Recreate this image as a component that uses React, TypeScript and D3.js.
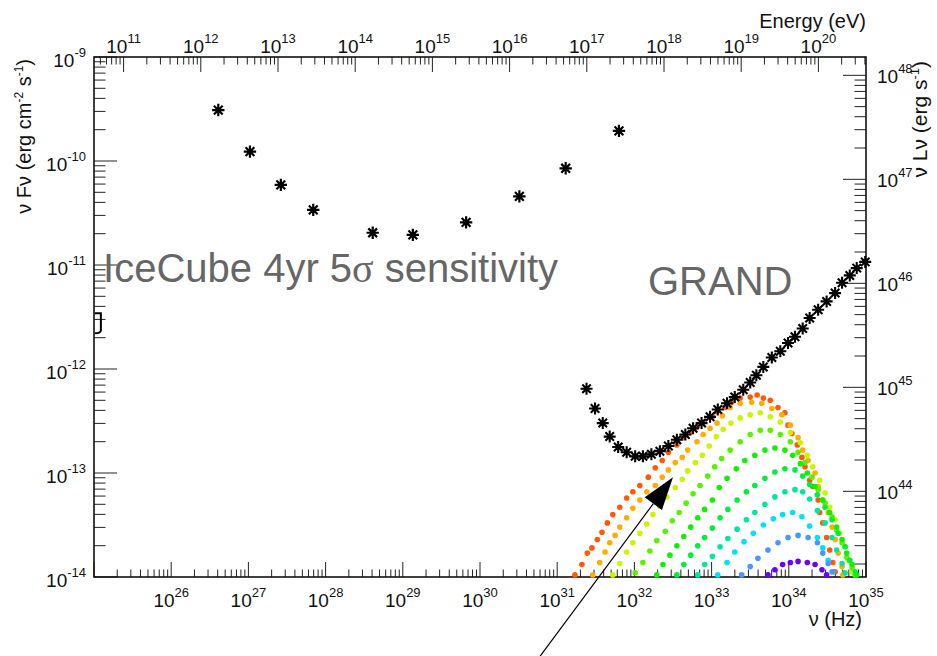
import * as d3 from "d3";

// conversion constants for the secondary axes
const PLANCK_EV = 4.1357e-15; // E = h nu  (eV s)
const LUM_FACTOR = 1.5e57; // 4 pi d^2 (cm^2)

// IceCube 4yr 5 sigma sensitivity, log10 nu (Hz) / log10 nuFnu (erg cm-2 s-1)
const icecubeLogNu = [26.61, 27.02, 27.42, 27.84, 28.61, 29.13, 29.82, 30.51, 31.11, 31.8];
const icecubeLogFlux = [-9.51, -9.91, -10.23, -10.47, -10.69, -10.71, -10.59, -10.34, -10.07, -9.71];

// GRAND sensitivity
const grandLogNu = [
  31.38, 31.49, 31.59, 31.68, 31.79, 31.9, 32.01, 32.11, 32.22, 32.33, 32.44, 32.55, 32.66, 32.76, 32.87, 32.98,
  33.08, 33.2, 33.3, 33.41, 33.5, 33.58, 33.67, 33.78, 33.89, 33.99, 34.08, 34.18, 34.27, 34.38, 34.49, 34.6,
  34.69, 34.79, 34.88, 34.99,
];
const grandLogFlux = [
  -12.19, -12.38, -12.52, -12.65, -12.75, -12.8, -12.84, -12.84, -12.82, -12.79, -12.74, -12.68, -12.63, -12.57,
  -12.52, -12.46, -12.39, -12.33, -12.27, -12.2, -12.13, -12.06, -11.98, -11.89, -11.83, -11.75, -11.69, -11.61,
  -11.51, -11.43, -11.35, -11.27, -11.17, -11.1, -11.03, -10.97,
];

// model spectra, [log10 nu, log10 nuFnu]
const spectrumRed = [
  [31.23, -13.98], [31.32, -13.88], [31.39, -13.77], [31.45, -13.72], [31.52, -13.64], [31.58, -13.57], [31.65, -13.48],
  [31.72, -13.4], [31.81, -13.33], [31.9, -13.24], [31.98, -13.18], [32.07, -13.12], [32.18, -13.04], [32.27, -12.95],
  [32.36, -12.88], [32.44, -12.8], [32.55, -12.73], [32.63, -12.66], [32.72, -12.61], [32.81, -12.56], [32.89, -12.51],
  [33.01, -12.46], [33.07, -12.41], [33.17, -12.37], [33.26, -12.32], [33.37, -12.28], [33.5, -12.27], [33.59, -12.25],
  [33.67, -12.28], [33.76, -12.3], [33.86, -12.37], [33.95, -12.42], [33.99, -12.54], [34.04, -12.62], [34.11, -12.73],
  [34.17, -12.85], [34.21, -12.94], [34.27, -13.07], [34.31, -13.13], [34.38, -13.26], [34.4, -13.38], [34.44, -13.48],
  [34.49, -13.62], [34.53, -13.74], [34.57, -13.86], [34.6, -13.95],
];
const spectrumOrange = [
  [31.46, -13.98], [31.55, -13.86], [31.62, -13.76], [31.68, -13.67], [31.75, -13.6], [31.81, -13.52], [31.9, -13.43],
  [31.98, -13.34], [32.07, -13.26], [32.16, -13.18], [32.27, -13.12], [32.36, -13.04], [32.44, -12.97], [32.53, -12.9],
  [32.62, -12.85], [32.69, -12.78], [32.81, -12.7], [32.89, -12.63], [32.98, -12.57], [33.07, -12.52], [33.14, -12.45],
  [33.24, -12.37], [33.37, -12.33], [33.52, -12.32], [33.65, -12.33], [33.78, -12.38], [33.91, -12.44], [34.02, -12.54],
  [34.12, -12.66], [34.18, -12.78], [34.25, -12.88], [34.34, -13.0], [34.38, -13.13], [34.44, -13.26], [34.51, -13.38],
  [34.56, -13.52], [34.6, -13.64], [34.64, -13.77], [34.69, -13.9], [34.7, -13.98],
];
const spectrumYellow = [
  [31.72, -13.98], [31.81, -13.87], [31.9, -13.76], [31.98, -13.67], [32.07, -13.58], [32.16, -13.49], [32.24, -13.4],
  [32.33, -13.32], [32.42, -13.23], [32.53, -13.14], [32.62, -13.06], [32.69, -12.98], [32.79, -12.9], [32.88, -12.83],
  [32.97, -12.74], [33.06, -12.65], [33.15, -12.58], [33.25, -12.52], [33.37, -12.47], [33.5, -12.44], [33.63, -12.42],
  [33.76, -12.46], [33.89, -12.51], [34.02, -12.61], [34.15, -12.71], [34.24, -12.83], [34.31, -12.94], [34.4, -13.07],
  [34.47, -13.19], [34.53, -13.33], [34.6, -13.45], [34.66, -13.58], [34.73, -13.71], [34.77, -13.84], [34.82, -13.95],
];
const spectrumLime = [
  [32.01, -13.96], [32.11, -13.86], [32.2, -13.75], [32.29, -13.65], [32.4, -13.56], [32.49, -13.46], [32.58, -13.38],
  [32.67, -13.29], [32.76, -13.2], [32.85, -13.12], [32.95, -13.03], [33.04, -12.94], [33.13, -12.86], [33.24, -12.78],
  [33.37, -12.7], [33.5, -12.63], [33.63, -12.59], [33.76, -12.59], [33.89, -12.63], [34.02, -12.7], [34.12, -12.8],
  [34.21, -12.9], [34.3, -13.04], [34.38, -13.16], [34.47, -13.29], [34.56, -13.42], [34.62, -13.55], [34.69, -13.67],
  [34.75, -13.81], [34.82, -13.91], [34.86, -13.98],
];
const spectrumGreen = [
  [32.29, -13.98], [32.37, -13.88], [32.46, -13.79], [32.55, -13.7], [32.64, -13.61], [32.73, -13.52], [32.82, -13.43],
  [32.91, -13.35], [33.01, -13.26], [33.1, -13.14], [33.2, -13.05], [33.32, -12.96], [33.43, -12.88], [33.56, -12.83],
  [33.69, -12.78], [33.82, -12.76], [33.95, -12.78], [34.05, -12.83], [34.15, -12.91], [34.24, -13.0], [34.34, -13.13],
  [34.44, -13.26], [34.53, -13.38], [34.62, -13.52], [34.69, -13.64], [34.75, -13.77], [34.82, -13.88], [34.88, -13.98],
];
const spectrumSpring = [
  [32.55, -13.98], [32.64, -13.88], [32.73, -13.79], [32.82, -13.7], [32.91, -13.62], [33.01, -13.53], [33.11, -13.43],
  [33.21, -13.35], [33.33, -13.26], [33.45, -13.18], [33.56, -13.12], [33.69, -13.05], [33.82, -12.99], [33.95, -12.96],
  [34.08, -12.97], [34.18, -13.03], [34.27, -13.11], [34.37, -13.21], [34.47, -13.33], [34.56, -13.45], [34.64, -13.58],
  [34.73, -13.71], [34.79, -13.84], [34.86, -13.95],
];
const spectrumTeal = [
  [32.82, -13.98], [32.91, -13.88], [33.01, -13.8], [33.11, -13.71], [33.21, -13.63], [33.33, -13.54], [33.45, -13.45],
  [33.56, -13.38], [33.69, -13.3], [33.82, -13.23], [33.95, -13.18], [34.08, -13.16], [34.18, -13.18], [34.27, -13.25],
  [34.37, -13.36], [34.47, -13.48], [34.56, -13.62], [34.62, -13.74], [34.69, -13.87], [34.73, -13.96],
];
const spectrumCyan = [
  [33.08, -13.98], [33.2, -13.86], [33.3, -13.76], [33.42, -13.66], [33.54, -13.58], [33.67, -13.5], [33.8, -13.44],
  [33.92, -13.4], [34.05, -13.38], [34.17, -13.42], [34.27, -13.51], [34.37, -13.62], [34.44, -13.72], [34.51, -13.84],
  [34.57, -13.95],
];
const spectrumBlue = [
  [33.39, -13.98], [33.5, -13.9], [33.6, -13.82], [33.73, -13.74], [33.86, -13.67], [33.99, -13.62], [34.12, -13.6],
  [34.25, -13.62], [34.37, -13.67], [34.44, -13.77], [34.51, -13.87], [34.56, -13.95],
];
const spectrumViolet = [
  [33.73, -13.98], [33.82, -13.93], [33.92, -13.88], [34.02, -13.86], [34.12, -13.85], [34.24, -13.86], [34.34, -13.88],
  [34.43, -13.93], [34.49, -13.98],
];

const spectra = [
  { points: spectrumRed, color: "#ff5a0a" },
  { points: spectrumOrange, color: "#ffad00" },
  { points: spectrumYellow, color: "#c8f500" },
  { points: spectrumLime, color: "#5af000" },
  { points: spectrumGreen, color: "#10f000" },
  { points: spectrumSpring, color: "#00ee3c" },
  { points: spectrumTeal, color: "#00e6a0" },
  { points: spectrumCyan, color: "#00e0ff" },
  { points: spectrumBlue, color: "#4a96ff" },
  { points: spectrumViolet, color: "#6a00ff" },
];

// annotations (log10 nu, log10 nuFnu)
const arrowTail = [30.74, -14.8];
const arrowTip = [32.5, -13.04];
const edgeMark = [25.05, -11.56];
const icecubeLabel = [25.117, -11.163];
const grandLabel = [32.176, -11.288];

const W = 937;
const H = 656;
const margin = { top: 57, right: 71, bottom: 79, left: 94 };
const FONT = "'Liberation Sans', Arial, Helvetica, sans-serif";

function logTicks(domain) {
  const [a, b] = domain;
  const major = [];
  const minor = [];
  for (let k = Math.floor(Math.log10(a)); k <= Math.ceil(Math.log10(b)); k++) {
    for (let m = 1; m < 10; m++) {
      const v = m * Math.pow(10, k);
      if (v < a * 0.999 || v > b * 1.001) continue;
      (m === 1 ? major : minor).push(v);
    }
  }
  return { major, minor };
}

function starPath(cx, cy, r) {
  const d = r * Math.SQRT1_2;
  return `M${cx - r},${cy}h${2 * r}M${cx},${cy - r}v${2 * r}M${cx - d},${cy - d}l${2 * d},${2 * d}M${cx - d},${cy + d}l${2 * d},${-2 * d}`;
}

const exp10 = (v) => Math.pow(10, v);
const expLabel = (v) => String(Math.round(Math.log10(v)));

export default function App() {
  const x0 = margin.left;
  const x1 = W - margin.right;
  const y0 = H - margin.bottom;
  const y1 = margin.top;

  const x = d3.scaleLog().domain([1e25, 1e35]).range([x0, x1]);
  const y = d3.scaleLog().domain([1e-14, 1e-9]).range([y0, y1]);
  const xTop = d3.scaleLog().domain(x.domain().map((d) => d * PLANCK_EV)).range([x0, x1]);
  const yRight = d3.scaleLog().domain(y.domain().map((d) => d * LUM_FACTOR)).range([y0, y1]);

  const px = (l) => x(exp10(l));
  const py = (l) => y(exp10(l));

  const bt = logTicks(x.domain());
  const lt = logTicks(y.domain());
  const tt = logTicks(xTop.domain());
  const rt = logTicks(yRight.domain());

  // arrow geometry
  const ax0 = px(arrowTail[0]);
  const ay0 = py(arrowTail[1]);
  const ax1 = px(arrowTip[0]);
  const ay1 = py(arrowTip[1]);
  const len = Math.hypot(ax1 - ax0, ay1 - ay0);
  const ux = (ax1 - ax0) / len;
  const uy = (ay1 - ay0) / len;
  const headL = 33;
  const headW = 10.7;
  const bx = ax1 - ux * headL;
  const by = ay1 - uy * headL;
  const head = `M${ax1},${ay1}L${bx - uy * headW},${by + ux * headW}L${bx + uy * headW},${by - ux * headW}Z`;

  const ex = px(edgeMark[0]);
  const ey = py(edgeMark[1]);

  return (
    <svg
      width={W}
      height={H}
      style={{ position: "absolute", left: 0, top: 0, background: "#fff" }}
      fontFamily={FONT}
    >
      <rect width={W} height={H} fill="#fff" />

      {/* axis ticks */}
      <g stroke="#222" strokeWidth={1}>
        {bt.minor.map((v, i) => (
          <line key={`bm${i}`} x1={x(v)} x2={x(v)} y1={y0} y2={y0 - 7.5} />
        ))}
        {bt.major.map((v, i) => (
          <line key={`bM${i}`} x1={x(v)} x2={x(v)} y1={y0} y2={y0 - 15} />
        ))}
        {tt.minor.map((v, i) => (
          <line key={`tm${i}`} x1={xTop(v)} x2={xTop(v)} y1={y1} y2={y1 + 7.5} />
        ))}
        {tt.major.map((v, i) => (
          <line key={`tM${i}`} x1={xTop(v)} x2={xTop(v)} y1={y1} y2={y1 + 15} />
        ))}
        {lt.minor.map((v, i) => (
          <line key={`lm${i}`} x1={x0} x2={x0 + 11.5} y1={y(v)} y2={y(v)} />
        ))}
        {lt.major.map((v, i) => (
          <line key={`lM${i}`} x1={x0} x2={x0 + 23} y1={y(v)} y2={y(v)} />
        ))}
        {rt.minor.map((v, i) => (
          <line key={`rm${i}`} x1={x1} x2={x1 - 11.5} y1={yRight(v)} y2={yRight(v)} />
        ))}
        {rt.major.map((v, i) => (
          <line key={`rM${i}`} x1={x1} x2={x1 - 23} y1={yRight(v)} y2={yRight(v)} />
        ))}
      </g>

      {/* frame */}
      <rect x={x0} y={y1} width={x1 - x0} height={y0 - y1} fill="none" stroke="#111" strokeWidth={1.6} />

      {/* tick labels */}
      <g fontSize={19} fill="#111">
        {bt.major
          .filter((v) => v > 1e25 * 1.01)
          .map((v, i) => (
            <text key={`bl${i}`} x={x(v)} y={y0 + 30} textAnchor="middle">
              10<tspan dy={-10} fontSize={13}>{expLabel(v)}</tspan>
            </text>
          ))}
        {tt.major.map((v, i) => (
          <text key={`tl${i}`} x={xTop(v)} y={y1 - 4} textAnchor="middle">
            10<tspan dy={-10} fontSize={13}>{expLabel(v)}</tspan>
          </text>
        ))}
        {lt.major.map((v, i) => (
          <text key={`ll${i}`} x={x0 - 8} y={y(v) + 9.5} textAnchor="end">
            10<tspan dy={-10} fontSize={13}>{expLabel(v)}</tspan>
          </text>
        ))}
        {rt.major.map((v, i) => (
          <text key={`rl${i}`} x={x1 + 11} y={yRight(v) + 7.5} textAnchor="start">
            10<tspan dy={-10} fontSize={13}>{expLabel(v)}</tspan>
          </text>
        ))}
      </g>

      {/* axis titles */}
      <g fontSize={20} fill="#111">
        <text x={x1} y={28} textAnchor="end">Energy (eV)</text>
        <text x={x1 - 4} y={626} textAnchor="end">ν (Hz)</text>
        <text transform={`translate(31, ${y1 + 2}) rotate(-90)`} textAnchor="end">
          ν Fν (erg cm<tspan dy={-8} fontSize={12}>-2</tspan>
          <tspan dy={8}> s</tspan>
          <tspan dy={-8} fontSize={12}>-1</tspan>
          <tspan dy={8}>)</tspan>
        </text>
        <text transform={`translate(927, ${y1 + 4}) rotate(-90)`} textAnchor="end" fontSize={21}>
          ν Lν (erg s<tspan dy={-8} fontSize={13}>-1</tspan>
          <tspan dy={8}>)</tspan>
        </text>
      </g>

      {/* annotation texts */}
      <g fontSize={40} fill="#666">
        <text x={px(icecubeLabel[0])} y={py(icecubeLabel[1])}>
          IceCube 4yr 5<tspan fontFamily="'Liberation Serif', 'DejaVu Serif', serif">σ</tspan> sensitivity
        </text>
        <text x={px(grandLabel[0])} y={py(grandLabel[1])}>GRAND</text>
      </g>

      {/* model spectra */}
      {spectra.map((s, i) => (
        <g key={`sp${i}`} fill={s.color}>
          {s.points.map(([ln, lf], j) => (
            <circle key={j} cx={px(ln)} cy={py(lf)} r={2.8} />
          ))}
        </g>
      ))}

      {/* GRAND sensitivity */}
      <g stroke="#000" strokeWidth={2.1} fill="none">
        {grandLogNu.map((ln, i) => (
          <path key={`g${i}`} d={starPath(px(ln), py(grandLogFlux[i]), 6)} />
        ))}
      </g>

      {/* IceCube sensitivity */}
      <g stroke="#000" strokeWidth={2.2} fill="none">
        {icecubeLogNu.map((ln, i) => (
          <path key={`ic${i}`} d={starPath(px(ln), py(icecubeLogFlux[i]), 6.2)} />
        ))}
      </g>

      {/* small bracket at the left edge */}
      <path
        d={`M${ex - 3},${ey - 10}L${ex + 3},${ey - 10}L${ex + 3},${ey + 7}Q${ex + 3},${ey + 10} ${ex - 3},${ey + 10}`}
        fill="none"
        stroke="#000"
        strokeWidth={2}
      />

      {/* arrow */}
      <line x1={ax0} y1={ay0} x2={bx} y2={by} stroke="#000" strokeWidth={1.2} />
      <path d={head} fill="#000" />
    </svg>
  );
}
